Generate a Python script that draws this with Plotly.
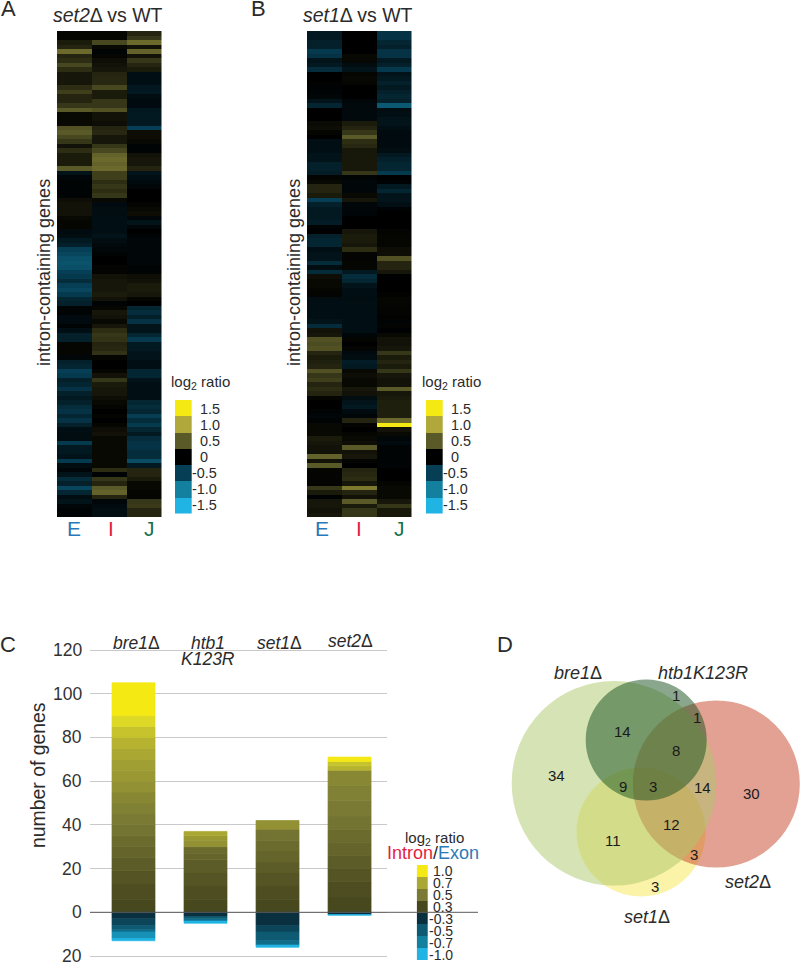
import plotly.graph_objects as go

W, H = 800, 963
FONT = "Liberation Sans"
INK = "#2b2b2b"

# ---------- Panel A: set2 vs WT (log2 ratio per gene, top to bottom) ----------
heat_columns = ["E", "I", "J"]
a_exon = [.03,.03,.15,.2,.6,.2,.25,.4,.25,.12,.12,.12,.25,.35,.2,.2,.3,.5,.05,.05,.05,.45,.5,.4,.3,.1,.25,.15,.15,.15,.5,-.15,-.05,-.03,-.03,-.03,-.03,.08,.1,.1,.1,.05,.03,.03,-.08,-.1,-.2,-.25,-.5,-.55,-.62,-.65,-.62,-.5,
          -.45,-.35,-.5,-.55,-.45,-.3,-.25,-.03,-.03,-.08,-.08,-.03,-.12,-.25,-.25,.03,.03,.03,-.05,-.25,-.3,-.5,-.45,-.25,-.3,-.4,-.25,-.2,-.25,-.35,-.4,-.3,-.4,-.25,-.12,-.1,-.1,-.45,-.2,-.2,-.15,-.45,-.1,-.05,-.15,-.35,-.25,-.55,-.3,-.1,-.15,-.05,-.03,-.03]
a_intron = [.03,.03,.4,.05,-.03,.03,.08,.1,.12,.2,.22,.22,.4,.15,.15,.3,.3,.45,.1,.1,.08,.2,.22,.12,.12,.3,.4,.55,.6,.55,.6,.35,.35,.25,.3,.25,.3,.05,-.08,-.1,-.1,-.12,-.12,-.12,-.12,-.15,-.1,-.07,-.05,-.03,0,0,.02,.02,
            .1,.12,.12,.12,.15,.1,-.03,.03,.12,.1,.05,.12,.25,.3,.28,.2,.22,.28,.03,0,0,.03,.1,.3,.15,.12,.12,.08,.05,.02,0,.02,0,.03,.08,.1,.05,.05,.05,.05,.05,.05,.05,.25,-.02,.3,.2,.5,.55,.2,-.05,-.08,-.1,-.1]
a_junction = [.2,.3,.6,.1,.55,.1,.3,.2,.15,-.12,-.12,-.12,-.18,-.2,-.1,-.08,-.08,-.18,-.2,-.2,-.2,-.5,.07,.07,.05,-.03,-.03,.1,.12,.12,.2,-.15,-.12,-.08,-.05,0,0,0,.02,.05,.07,-.05,-.15,-.05,0,-.03,-.05,-.05,-.05,-.05,-.05,-.05,-.03,-.03,
              .08,.1,.15,.15,.12,.03,0,-.3,-.35,-.25,-.4,-.15,-.15,-.3,-.45,-.2,-.2,-.15,-.15,-.12,-.12,-.3,-.3,-.15,-.12,-.12,-.12,-.12,-.3,-.35,-.3,-.5,-.35,-.45,-.3,-.2,-.35,-.4,-.4,-.35,-.35,-.6,-.2,.2,.2,.15,.05,.05,.03,.03,.3,.32,.2,.2]

# ---------- Panel B: set1 vs WT ----------
b_exon = [-.2,-.2,-.25,-.25,-.45,-.4,-.15,-.2,-.35,0,0,.01,-.02,-.03,-.05,-.15,-.3,0,0,0,.06,.08,.03,0,-.12,-.12,-.12,-.15,-.15,-.25,-.25,-.22,.02,.05,.2,.2,.15,-.5,-.25,-.2,-.2,-.2,-.22,-.03,0,-.25,-.3,-.3,-.12,-.15,-.15,-.35,-.1,-.35,
          .08,.05,.05,.03,.02,-.1,-.12,-.12,-.12,-.12,-.15,-.35,.1,.12,.45,.42,.45,.2,.15,.18,.2,.45,.3,.35,.2,.25,.2,.03,0,0,-.03,-.05,-.03,.05,.05,.05,.15,.12,.1,.1,.55,.1,.5,.03,.02,.02,.02,.3,.15,-.02,.12,.12,.1,.12]
b_intron = [0,0,0,0,0,.05,.04,-.1,-.15,.03,.04,.03,0,0,0,-.05,-.07,-.07,-.07,-.07,.15,.2,.3,.5,.25,.22,.13,.13,.13,.13,.13,.3,-.03,-.05,-.05,-.05,.05,.12,-.05,-.05,-.04,0,0,0,.12,.15,.15,.12,.25,.02,.02,.03,.03,-.2,
            -.35,-.3,-.15,-.12,-.12,-.1,-.12,-.12,-.12,-.12,-.12,-.12,-.12,-.05,.02,0,.02,-.08,-.1,-.22,-.2,.05,.08,.05,.05,.12,.1,-.1,-.15,-.2,-.08,-.05,.2,.02,0,.03,.05,.08,.5,.1,.12,.02,0,.2,.22,.25,.12,.7,.2,.1,.5,.15,.3,.3]
b_junction = [-.4,-.4,-.3,-.25,-.4,-.4,-.2,-.25,-.45,-.15,-.2,-.25,-.2,-.25,-.3,-.25,-.7,-.1,-.12,-.15,-.15,-.12,-.08,-.08,-.08,-.08,-.1,-.2,-.25,-.3,-.3,-.45,0,-.02,-.2,-.3,-.15,-.15,-.12,-.02,0,0,0,0,.02,.03,.03,.03,.07,.08,.45,.2,.2,.12,
              0,0,0,0,.01,.03,.03,.02,.02,.01,-.03,.02,-.01,.05,.1,.1,.12,.3,.15,.2,.15,.3,.12,.1,.1,.5,.12,.15,.17,.17,.17,.17,.6,1.5,.1,.05,-.05,-.08,-.03,-.03,-.03,-.03,-.03,0,0,0,.03,.05,.05,.05,.12,.3,.13,.13]

heat_key_values = [1.5, 1.0, 0.5, 0, -0.5, -1.0, -1.5]
heat_key_labels = ["1.5", "1.0", "0.5", "0", "-0.5", "-1.0", "-1.5"]

# ---------- Panel C: genes counted per Intron/Exon log2-ratio level ----------
bar_categories = ["bre1", "htb1 K123R", "set1", "set2"]
up_levels = [.30,.32,.35,.38,.41,.44,.47,.50,.53,.56,.60,.63,.66,.70,.75,.82,.92,1.0]
up_bre1 =   [6,7,6,6,5,5,5,5,5,5,5,5,5,5,5,5,5,15]
up_htb1 =   [6,6,6,6,3,3,0,0,0,0,3,2,0,2,0,0,0,0]
up_set1 =   [6,6,6,5,5,5,5,0,0,0,4,0,0,0,0,0,0,0]
up_set2 =   [7,7,6,6,6,6,6,7,7,7,0,0,0,0,2,2,0,2]
down_levels = [-.3,-.4,-.5,-.6,-.8,-1.0]
down_bre1 = [3,3,2,1,3,1]
down_htb1 = [2,0,1,1,0,1]
down_set1 = [6,3,4,2,0,1]
down_set2 = [1,0,0,0,0,.4]
count_ticks = [120, 100, 80, 60, 40, 20, 0, -20]
count_labels = ["120", "100", "80", "60", "40", "20", "0", "20"]
bar_key_values = [1.0, 0.7, 0.5, 0.3, -0.3, -0.5, -0.7, -1.0]
bar_key_labels = ["1.0", "0.7", "0.5", "0.3", "-0.3", "-0.5", "-0.7", "-1.0"]

# ---------- Panel D: Venn region counts ----------
venn_counts = [1, 1, 14, 8, 34, 9, 3, 14, 30, 12, 11, 3, 3]

# ---------- layout helpers (pixels on the 800x963 page) ----------
def px(x): return x / W
def py(y): return 1 - y / H
def dom_y(top, bottom): return [py(bottom), py(top)]

heat_scale = [[0, "#20b4e4"], [1/6, "#14809f"], [2/6, "#063f55"], [3/6, "#000000"],
              [4/6, "#5a5a28"], [5/6, "#b0a83a"], [1, "#f5e914"]]
bar_pts = [(-1, "#20b4e4"), (-.7, "#12809f"), (-.5, "#0e5a72"), (-.3, "#0a3040"), (0, "#000000"),
           (.3, "#48481f"), (.5, "#7a7a35"), (.7, "#aaa832"), (.9, "#d8d52a"), (1, "#f5e914")]
bar_scale = [[(v + 1) / 2, c] for v, c in bar_pts]

def columns(*cols):
    n = len(cols[0])
    assert all(len(c) == n for c in cols), [len(c) for c in cols]
    return [list(r) for r in zip(*cols)]

fig = go.Figure()
hidden = dict(visible=False, fixedrange=True)

def heat(z, xa, ya, x, scale, lo, hi):
    fig.add_trace(go.Heatmap(z=z, x=x, xaxis=xa, yaxis=ya, colorscale=scale, zmin=lo, zmax=hi,
                             showscale=False, xgap=0, ygap=0, hoverinfo="skip"))

heat(columns(a_exon, a_intron, a_junction), "x", "y", heat_columns, heat_scale, -1.5, 1.5)
heat(columns(b_exon, b_intron, b_junction), "x2", "y2", heat_columns, heat_scale, -1.5, 1.5)
key = [[v] for v in heat_key_values]
heat(key, "x3", "y3", ["k"], heat_scale, -1.5, 1.5)
heat(key, "x4", "y4", ["k"], heat_scale, -1.5, 1.5)

up = [up_bre1, up_htb1, up_set1, up_set2]
down = [down_bre1, down_htb1, down_set1, down_set2]
for series, levels, sign in ((up, up_levels, 1), (down, down_levels, -1)):
    for i, lev in enumerate(levels):
        fig.add_trace(go.Bar(x=bar_categories, y=[sign * s[i] if s[i] else None for s in series],
                             xaxis="x5", yaxis="y5",
                             marker=dict(color=[lev] * 4, colorscale=bar_scale, cmin=-1, cmax=1,
                                         line=dict(width=0.7, color=[lev] * 4, colorscale=bar_scale, cmin=-1, cmax=1)),
                             showlegend=False, hoverinfo="skip"))
heat([[v] for v in bar_key_values], "x6", "y6", ["k"], bar_scale, -1, 1)

# C axis: 120 at y=650, 0 at y=912.3
C_TOP, C_BOTTOM = 645, 960
unit = (912.3 - 650) / 120
n_rows = len(a_exon)

layout = dict(
    width=W, height=H, margin=dict(l=0, r=0, t=0, b=0), paper_bgcolor="white", plot_bgcolor="rgba(0,0,0,0)",
    font=dict(family=FONT, color=INK), showlegend=False, barmode="relative", bargap=0.403,
    xaxis=dict(domain=[px(57), px(161.5)], range=[-.5, 2.5], anchor="y", **hidden),
    yaxis=dict(domain=dom_y(31, 517), range=[n_rows - .5, -.5], anchor="x", **hidden),
    xaxis2=dict(domain=[px(307), px(411.5)], range=[-.5, 2.5], anchor="y2", **hidden),
    yaxis2=dict(domain=dom_y(31, 517), range=[n_rows - .5, -.5], anchor="x2", **hidden),
    xaxis3=dict(domain=[px(175), px(191.7)], range=[-.5, .5], anchor="y3", **hidden),
    yaxis3=dict(domain=dom_y(400, 513.5), range=[6.5, -.5], anchor="x3", **hidden),
    xaxis4=dict(domain=[px(426), px(442.7)], range=[-.5, .5], anchor="y4", **hidden),
    yaxis4=dict(domain=dom_y(400, 513.5), range=[6.5, -.5], anchor="x4", **hidden),
    xaxis5=dict(domain=[px(90), px(387)], range=[-0.604, 3.52], visible=False, fixedrange=True, anchor="y5"),
    yaxis5=dict(domain=dom_y(C_TOP, C_BOTTOM), anchor="x5",
                range=[(912.3 - C_BOTTOM) / unit, (912.3 - C_TOP) / unit],
                tickmode="array", tickvals=count_ticks, showticklabels=False, ticks="",
                showgrid=True, gridcolor="#c9c9c9", gridwidth=1,
                zeroline=False, showline=False, fixedrange=True),
    xaxis6=dict(domain=[px(416.7), px(428)], range=[-.5, .5], anchor="y6", **hidden),
    yaxis6=dict(domain=dom_y(865, 960), range=[7.5, -.5], anchor="x6", **hidden),
    xaxis7=dict(domain=[px(490), px(800)], range=[490, 800], anchor="y7", **hidden),
    yaxis7=dict(domain=dom_y(625, 945), range=[945, 625], anchor="x7", **hidden),
)
fig.update_layout(**layout)

shapes = [dict(type="line", xref="paper", yref="y5", x0=px(90), x1=px(478), y0=0, y1=0,
               line=dict(color="#5a5a5a", width=1), layer="above")]
# Venn circles: centre x, centre y, radius, colour (drawn bottom to top)
for cx, cy, r, col in [(641, 832, 64.5, "#f7e850"), (716.3, 784, 83.5, "#c54325"),
                       (614, 783.3, 102.3, "#abc76b"), (646.2, 740, 60.5, "#154f1e")]:
    shapes.append(dict(type="circle", xref="x7", yref="y7", x0=cx - r, x1=cx + r, y0=cy - r, y1=cy + r,
                       fillcolor=col, opacity=0.5, line=dict(width=0), layer="above"))
fig.update_layout(shapes=shapes)

notes = []
def text(x, y, s, size, color=INK, angle=0, anchor="center"):
    notes.append(dict(xref="paper", yref="paper", x=px(x), y=py(y), text=s, showarrow=False,
                      xanchor=anchor, yanchor="middle", textangle=angle,
                      font=dict(family=FONT, size=size, color=color)))

for x, s in ((8, "A"), (258, "B")):
    text(x, 8, s, 22)
text(8, 644, "C", 22)
text(505, 644, "D", 22)

for off, t in ((0, "<i>set2</i>Δ vs WT"), (250, "<i>set1</i>Δ vs WT")):
    shift = off + (1 if off else 0)
    text(108 + off, 15.5, t, 19.5)
    text(44 + off, 273, "intron-containing genes", 18, angle=-90)
    text(200 + shift, 382, "log<sub>2</sub> ratio", 15)
    for i, lab in enumerate(heat_key_labels):
        if lab.startswith("-"):
            text(218.5 + shift, 408.5 + i * 16.1, lab, 14.4, anchor="right")
        else:
            text(198 + shift, 408.5 + i * 16.1, lab, 14.4, anchor="left")
for x, s, c in ((74, "E", "#2a78b8"), (111, "I", "#e01e3c"), (149, "J", "#17704c")):
    text(x, 528, s, 21, c)
for x, s, c in ((322, "E", "#2a78b8"), (359, "I", "#e01e3c"), (399, "J", "#17704c")):
    text(x, 528, s, 21, c)

text(38, 775, "number of genes", 19.4, angle=-90)
for tick, lab in zip(count_ticks, count_labels):
    notes.append(dict(xref="paper", yref="y5", x=px(83.5), y=tick, text=lab, showarrow=False,
                      xanchor="right", yanchor="middle", font=dict(family=FONT, size=17.5, color="#333333")))
text(136.7, 643, "<i>bre1</i>Δ", 17.5)
text(207.7, 643, "<i>htb1</i>", 17.5)
text(207.7, 659, "<i>K123R</i>", 17.5)
text(279, 642.5, "<i>set1</i>Δ", 17.5)
text(350.7, 641, "<i>set2</i>Δ", 17.5)
text(435, 838, "log<sub>2</sub> ratio", 15)
text(432.5, 853, '<span style="color:#e41e3f">Intron</span>/<span style="color:#2a7ab8">Exon</span>', 18)
for i, lab in enumerate(bar_key_labels):
    text(454.5, 870.5 + i * 12.1, lab, 14, anchor="right")

text(578, 672.7, "<i>bre1</i>Δ", 18)
text(703, 672.7, "<i>htb1K123R</i>", 18)
text(748, 881.7, "<i>set2</i>Δ", 18)
text(646.7, 916.7, "<i>set1</i>Δ", 18)

venn_xy = [(557,212),(620,277),(398,320),(557,375),(198,452),(398,483),(490,483),(638,488),(785,505),(545,598),(370,645),(613,688),(495,785)]
for n, (zx, zy) in zip(venn_counts, venn_xy):
    text(490 + zx / 3, 625 + zy / 3, str(n), 15, "#1a1a1a")

fig.update_layout(annotations=notes)
fig.write_html("out.html", post_script="document.body.style.margin='0';",
               config=dict(displayModeBar=False))
